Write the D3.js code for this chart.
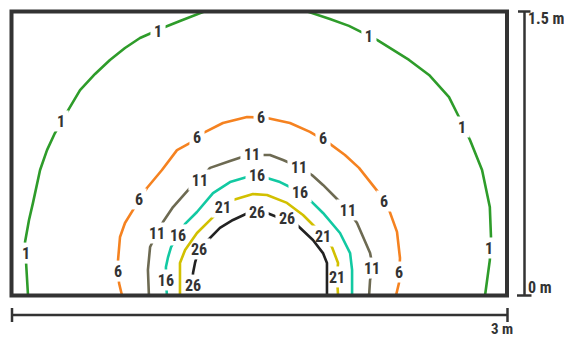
<!DOCTYPE html>
<html>
<head>
<meta charset="utf-8">
<script src="https://cdn.jsdelivr.net/npm/d3@7"></script>
<style>
  html, body { margin: 0; padding: 0; background: #fff; }
  svg { display: block; }
  text { font-family: "Liberation Sans Narrow", "Roboto Condensed", "Arial Narrow", "DejaVu Sans Condensed", sans-serif; font-weight: bold; }
</style>
</head>
<body>
<script>
// Contour levels and colours
const levels = [1, 6, 11, 16, 21, 26];
const levelColors = ["#2e9c2a", "#f58220", "#6d6a52", "#12c9a2", "#d2c000", "#222222"];

// Contour polylines, [x (m), y (m)]
const contour1 = [[0.10,0],[0.088,0.177],[0.082,0.283],[0.106,0.399],[0.130,0.489],[0.173,0.663],[0.215,0.768],[0.263,0.858],[0.336,0.969],[0.415,1.085],[0.506,1.170],[0.596,1.244],[0.687,1.307],[0.778,1.360],[0.929,1.418],[1.020,1.450],[1.159,1.497],[1.323,1.534],[1.480,1.550],[1.638,1.540],[1.801,1.497],[1.928,1.460],[2.043,1.424],[2.213,1.350],[2.407,1.244],[2.528,1.165],[2.649,1.048],[2.709,0.943],[2.776,0.821],[2.849,0.663],[2.896,0.467],[2.903,0.309],[2.896,0.187],[2.867,0]];
const contour6 = [[0.669,0],[0.651,0.066],[0.645,0.187],[0.657,0.309],[0.687,0.383],[0.736,0.452],[0.820,0.568],[0.911,0.663],[1.002,0.768],[1.093,0.811],[1.159,0.858],[1.280,0.911],[1.426,0.943],[1.547,0.938],[1.686,0.911],[1.807,0.864],[1.922,0.805],[2.019,0.742],[2.104,0.674],[2.225,0.541],[2.286,0.452],[2.334,0.336],[2.352,0.198],[2.346,0.066],[2.328,0]];
const contour11 = [[0.832,0],[0.826,0.135],[0.839,0.256],[0.881,0.330],[0.917,0.388],[0.978,0.467],[1.081,0.568],[1.141,0.610],[1.202,0.674],[1.323,0.710],[1.396,0.732],[1.456,0.747],[1.517,0.742],[1.565,0.742],[1.644,0.716],[1.741,0.679],[1.819,0.636],[1.886,0.584],[1.989,0.494],[2.037,0.452],[2.092,0.383],[2.171,0.224],[2.189,0.145],[2.171,0.082],[2.165,0]];
const contour16 = [[0.941,0],[0.935,0.082],[0.935,0.151],[0.948,0.203],[0.966,0.256],[1.008,0.320],[1.051,0.378],[1.123,0.441],[1.220,0.541],[1.323,0.599],[1.426,0.626],[1.487,0.636],[1.547,0.621],[1.626,0.599],[1.686,0.573],[1.747,0.547],[1.807,0.504],[1.886,0.436],[1.989,0.330],[2.050,0.224],[2.062,0.135],[2.062,0]];
const contour21 = [[1.020,0],[1.020,0.172],[1.051,0.240],[1.123,0.330],[1.214,0.409],[1.280,0.467],[1.341,0.504],[1.462,0.536],[1.547,0.531],[1.668,0.489],[1.765,0.425],[1.838,0.362],[1.886,0.314],[1.940,0.256],[1.977,0.172],[1.971,0.098],[1.977,0]];
const contour26 = [[1.093,0],[1.099,0.119],[1.111,0.172],[1.135,0.246],[1.190,0.293],[1.262,0.357],[1.341,0.399],[1.432,0.436],[1.487,0.441],[1.547,0.436],[1.608,0.415],[1.668,0.409],[1.729,0.372],[1.825,0.293],[1.886,0.224],[1.910,0.172],[1.910,0]];
const contours = [contour1, contour6, contour11, contour16, contour21, contour26];

// Contour label positions, [x (m), y (m)] per level
const labels1 = [[0.887,1.397],[0.300,0.922],[2.164,1.371],[2.728,0.890],[0.088,0.224],[2.891,0.251]];
const labels6 = [[0.645,0.129],[0.772,0.510],[1.123,0.837],[1.511,0.943],[1.886,0.832],[2.255,0.499],[2.346,0.124]];
const labels11 = [[0.881,0.330],[1.141,0.610],[1.456,0.747],[1.741,0.679],[2.037,0.452],[2.183,0.145]];
const labels16 = [[0.935,0.082],[1.008,0.320],[1.487,0.636],[1.747,0.547]];
const labels21 = [[1.280,0.467],[1.886,0.314],[1.971,0.098]];
const labels26 = [[1.099,0.055],[1.135,0.246],[1.487,0.441],[1.668,0.409]];
const labelSets = [labels1, labels6, labels11, labels16, labels21, labels26];

// Scale bar labels
const xMax = 3, yMax = 1.5;
const xScaleLabel = "3 m";
const yTopLabel = "1.5 m";
const yBottomLabel = "0 m";

const W = 564, H = 338;
const svg = d3.select("body").append("svg").attr("width", W).attr("height", H);
const defs = svg.append("defs");

const x = d3.scaleLinear().domain([0, xMax]).range([11.5, 507]);
const y = d3.scaleLinear().domain([0, yMax]).range([295.5, 11.5]);

defs.append("clipPath").attr("id", "frameclip")
  .append("rect").attr("x", x(0)).attr("y", y(yMax)).attr("width", x(xMax) - x(0)).attr("height", y(0) - y(yMax));

const plot = svg.append("g").attr("clip-path", "url(#frameclip)");
const line = d3.line().x(d => x(d[0])).y(d => y(d[1]));
const textLayer = svg.append("g").attr("clip-path", "url(#frameclip)");

// measure label widths
function measure(str) {
  const t = svg.append("text").attr("font-size", 16).text(str);
  const w = t.node().getComputedTextLength();
  t.remove();
  return w;
}

contours.forEach((c, i) => {
  const mask = defs.append("mask").attr("id", "mask" + i).attr("maskUnits", "userSpaceOnUse")
    .attr("x", 0).attr("y", 0).attr("width", W).attr("height", H);
  mask.append("rect").attr("x", 0).attr("y", 0).attr("width", W).attr("height", H).attr("fill", "#fff");
  const w = measure(String(levels[i]));
  labelSets[i].forEach(p => {
    mask.append("rect").attr("x", x(p[0]) - w / 2 - 3.5).attr("width", w + 7)
      .attr("y", y(p[1]) - 10.5).attr("height", 21).attr("fill", "#000");
    textLayer.append("text").attr("x", x(p[0])).attr("y", y(p[1])).text(levels[i])
      .attr("text-anchor", "middle").attr("dy", "0.36em").attr("font-size", 16).attr("fill", "#333");
  });
  plot.append("path").attr("d", line(c)).attr("mask", `url(#mask${i})`)
    .attr("fill", "none").attr("stroke", levelColors[i])
    .attr("stroke-width", 2.6).attr("stroke-linejoin", "round").attr("stroke-linecap", "butt");
});

// frame
svg.append("rect").attr("x", x(0)).attr("y", y(yMax)).attr("width", x(xMax) - x(0)).attr("height", y(0) - y(yMax))
  .attr("fill", "none").attr("stroke", "#333").attr("stroke-width", 4);

// vertical scale bar
const vx = 524.5;
svg.append("line").attr("x1", vx).attr("x2", vx).attr("y1", y(yMax) - 0.5).attr("y2", y(0) + 0.5).attr("stroke", "#333").attr("stroke-width", 2.5);
svg.append("line").attr("x1", vx - 6.5).attr("x2", vx + 6).attr("y1", y(yMax)).attr("y2", y(yMax)).attr("stroke", "#333").attr("stroke-width", 2.5);
svg.append("line").attr("x1", vx - 7.5).attr("x2", vx + 7).attr("y1", y(0)).attr("y2", y(0)).attr("stroke", "#333").attr("stroke-width", 2.5);
svg.append("text").attr("x", 528).attr("y", y(yMax) + 12).text(yTopLabel).attr("font-size", 16).attr("fill", "#333");
svg.append("text").attr("x", 528).attr("y", y(0) - 3).text(yBottomLabel).attr("font-size", 16).attr("fill", "#333");

// horizontal scale bar
const hy = 315;
svg.append("line").attr("x1", x(0)).attr("x2", x(xMax) + 1).attr("y1", hy).attr("y2", hy).attr("stroke", "#333").attr("stroke-width", 2.5);
svg.append("line").attr("x1", x(0) + 0.5).attr("x2", x(0) + 0.5).attr("y1", hy - 7).attr("y2", hy + 7).attr("stroke", "#333").attr("stroke-width", 2.5);
svg.append("line").attr("x1", x(xMax) + 0.5).attr("x2", x(xMax) + 0.5).attr("y1", hy - 7).attr("y2", hy + 7).attr("stroke", "#333").attr("stroke-width", 2.5);
svg.append("text").attr("x", x(xMax) - 5).attr("y", 334).attr("text-anchor", "middle").text(xScaleLabel).attr("font-size", 15).attr("fill", "#333");
</script>
</body>
</html>
